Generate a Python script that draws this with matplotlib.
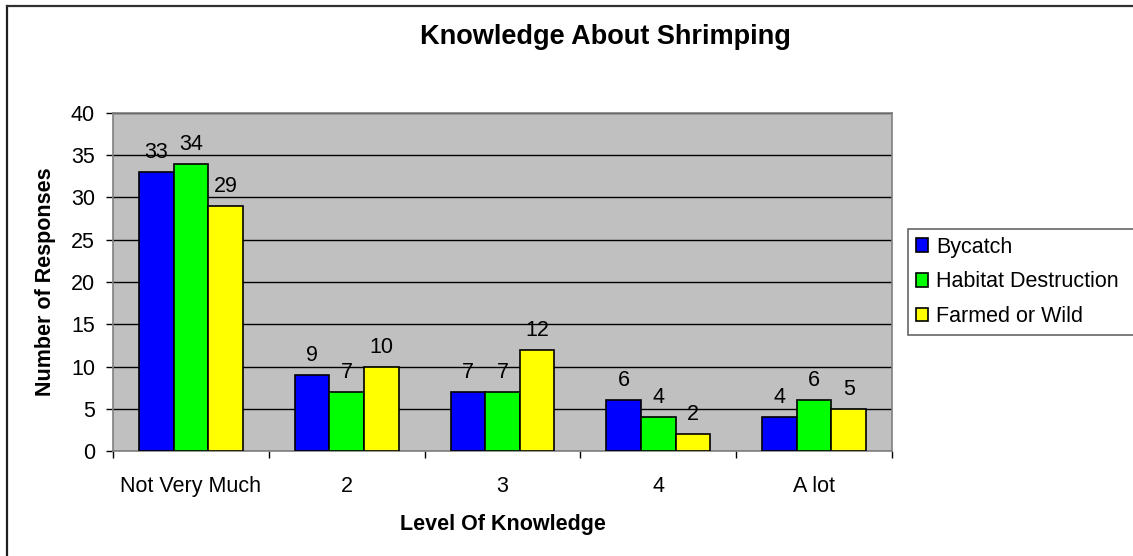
import numpy as np
import matplotlib.pyplot as plt
from matplotlib.lines import Line2D

plt.rcParams['font.family'] = ['Liberation Sans', 'DejaVu Sans']

# Data
categories = ["Not Very Much", "2", "3", "4", "A lot"]
bycatch = [33, 9, 7, 6, 4]
habitat = [34, 7, 7, 4, 6]
farmed = [29, 10, 12, 2, 5]
series_names = ["Bycatch", "Habitat Destruction", "Farmed or Wild"]
colors = ["#0000ff", "#00ff00", "#ffff00"]

FS = 15.5

fig = plt.figure(figsize=(11.33, 5.56), dpi=100)
ax = fig.add_axes([0.0997, 0.1888, 0.6876, 0.608])
ax.set_facecolor("#c0c0c0")

x = np.arange(len(categories))
w = 1 / 4.5
for i, (vals, name, c) in enumerate(zip([bycatch, habitat, farmed], series_names, colors)):
    bars = ax.bar(x + (i - 1) * w, vals, w, color=c, edgecolor="black", linewidth=1.2, label=name, zorder=3)
    for b, v in zip(bars, vals):
        ax.annotate(str(v), (b.get_x() + b.get_width() / 2, v), xytext=(0, 14),
                    textcoords="offset points", ha="center", va="center", fontsize=FS, zorder=4)

ax.set_xlim(-0.5, len(categories) - 0.5)
ax.set_ylim(0, 40)
ax.set_yticks(range(0, 41, 5))
ax.yaxis.grid(True, color="black", linewidth=1, zorder=0)
ax.set_axisbelow(True)

# ticks sit between the categories, labels centred under groups
ax.set_xticks(np.arange(-0.5, len(categories), 1))
ax.set_xticklabels([])
ax.set_xticks(x, minor=True)
ax.set_xticklabels(categories, minor=True, fontsize=FS)
ax.tick_params(axis="x", which="minor", length=0, pad=18)
ax.tick_params(axis="x", which="major", length=5, direction="out", width=1)
ax.tick_params(axis="y", length=5, direction="out", width=1, labelsize=FS, pad=8)

for s in ["top", "right", "left", "bottom"]:
    ax.spines[s].set_color("#808080")
    ax.spines[s].set_linewidth(1.2)

ax.set_xlabel("Level Of Knowledge", fontsize=FS, fontweight="bold", labelpad=12)
ax.set_ylabel("Number of Responses", fontsize=FS, fontweight="bold", labelpad=11)
fig.text(0.534, 0.934, "Knowledge About Shrimping", ha="center", va="center", fontsize=19.5, fontweight="bold")

leg = fig.legend(loc="upper left", bbox_to_anchor=(0.8014, 0.3, 0.3, 0.288), mode="expand",
                 fontsize=FS, frameon=True, fancybox=False, edgecolor="#404040",
                 handlelength=0.6, handleheight=0.6, handletextpad=0.35, borderpad=0.35,
                 labelspacing=0.64, borderaxespad=0)
leg.get_frame().set_linewidth(1.2)
for h in leg.legend_handles:
    h.set_linewidth(1.2)

# outer frame: only the left and top edges are visible in the original
fig.add_artist(Line2D([6.5 / 1133, 6.5 / 1133], [0, 1 - 6 / 556], color="#202020", linewidth=1.6,
                      transform=fig.transFigure))
fig.add_artist(Line2D([6.5 / 1133, 1], [1 - 6 / 556, 1 - 6 / 556], color="#303030", linewidth=1.6,
                      transform=fig.transFigure))

fig.savefig("out.png", dpi=100)
